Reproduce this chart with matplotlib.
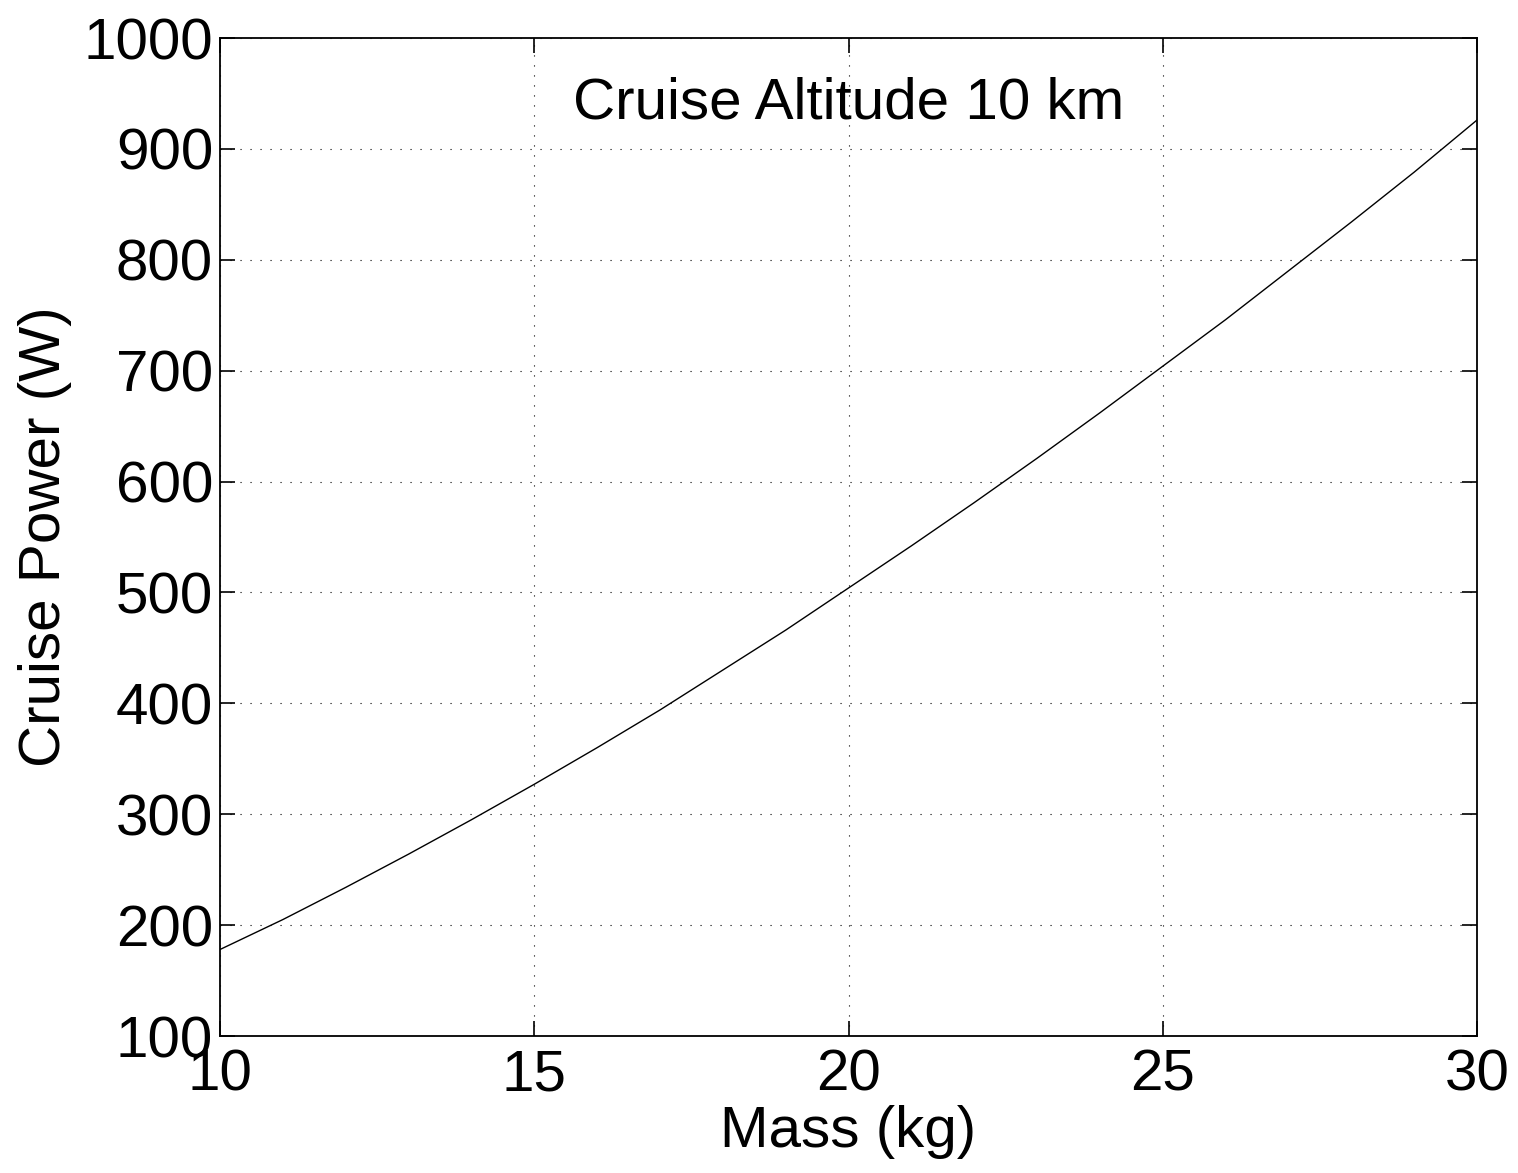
import matplotlib.pyplot as plt

mass = [10, 11, 12, 13, 14, 15, 16, 17, 18, 19, 20,
        21, 22, 23, 24, 25, 26, 27, 28, 29, 30]
power = [178, 205, 234, 264, 295, 327, 360, 394, 430, 466, 504,
         542, 581, 621, 662, 704, 746, 790, 834, 879, 926]

xticks = [10, 15, 20, 25, 30]
yticks = [100, 200, 300, 400, 500, 600, 700, 800, 900, 1000]

plt.rcParams['font.family'] = ['Liberation Sans', 'DejaVu Sans']

fig = plt.figure(figsize=(15.18, 11.73), dpi=100)
ax = fig.add_axes([220 / 1518, 1 - 1036 / 1173, 1257 / 1518, 998 / 1173])

ax.plot(mass, power, color='black', linewidth=1.0)

ax.set_xlim(10, 30)
ax.set_ylim(100, 1000)
ax.set_xticks(xticks)
ax.set_yticks(yticks)
ax.tick_params(direction='in', length=11, width=1.2, labelsize=42,
               top=True, right=True)
ax.tick_params(axis='y', pad=5)
ax.tick_params(axis='x', pad=9)
ax.grid(True, color='black', linestyle=(0, (1, 8)), linewidth=0.8)
for s in ax.spines.values():
    s.set_linewidth(1.3)

ax.set_xlabel('Mass (kg)', fontsize=42, labelpad=2)
ax.set_ylabel('Cruise Power (W)', fontsize=42, labelpad=8)
ax.text(20, 941, 'Cruise Altitude 10 km', fontsize=42, ha='center', va='center')

fig.savefig('out.png', dpi=100)
